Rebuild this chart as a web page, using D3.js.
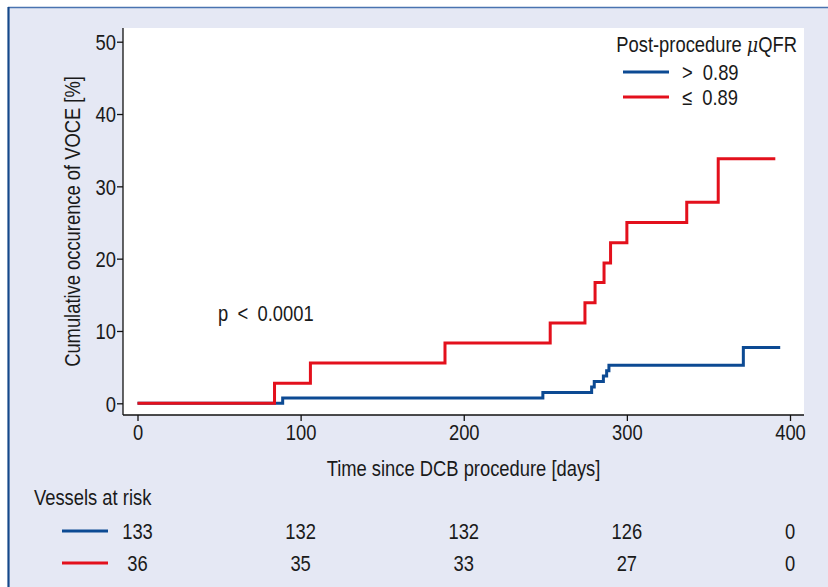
<!DOCTYPE html>
<html>
<head>
<meta charset="utf-8">
<script src="https://cdn.jsdelivr.net/npm/d3@7"></script>
<style>
  html, body { margin: 0; padding: 0; background: #ffffff; }
  svg { display: block; }
  text { font-family: "Liberation Sans", Arial, sans-serif; fill: #1a1a1a; }
</style>
</head>
<body>
<svg id="chart" width="828" height="587"></svg>
<script>
// ---- data ----
const xTicks = [0, 100, 200, 300, 400];
const yTicks = [0, 10, 20, 30, 40, 50];

const highTimes = [0, 89, 248.5, 278.4, 280, 285.6, 287.6, 289, 371.4, 394];
const highPct   = [0, 0.75, 1.50, 2.26, 3.01, 3.76, 4.51, 5.26, 7.7, 7.7];

const lowTimes = [0, 84, 106, 188.5, 253, 274.3, 280.5, 286, 290, 300, 336.7, 356, 391];
const lowPct   = [0, 2.78, 5.56, 8.33, 11.1, 13.9, 16.7, 19.4, 22.2, 25.0, 27.8, 33.8, 33.8];

const riskTimes = [0, 100, 200, 300, 400];
const highRisk = [133, 132, 132, 126, 0];
const lowRisk  = [36, 35, 33, 27, 0];

const groupLabels = ["> 0.89", "\u2264 0.89"];
const colors = ["#0c4a93", "#e3101c"];

// ---- layout ----
const svg = d3.select("#chart");
const W = 828, H = 587;
const plot = { left: 123, right: 804, top: 28, bottom: 415 };
const fs = 22;
const sx = 0.835; // narrow font emulation

function ntext(x0, y0, str, anchor, rot) {
  const t = svg.append("text")
    .attr("transform", `translate(${x0},${y0})${rot ? " rotate(" + rot + ")" : ""} scale(${sx},1)`)
    .attr("text-anchor", anchor || "start")
    .style("font-size", fs + "px");
  if (str !== null) t.text(str);
  return t;
}

// background frame
svg.append("rect").attr("x", 8).attr("y", 7).attr("width", W - 8).attr("height", H - 7).attr("fill", "#e5e8f4");
svg.append("line").attr("x1", 8).attr("x2", W).attr("y1", 7.5).attr("y2", 7.5).attr("stroke", "#4a73b0").attr("stroke-width", 1.5);
svg.append("line").attr("x1", 8.5).attr("x2", 8.5).attr("y1", 7).attr("y2", H).attr("stroke", "#15488a").attr("stroke-width", 2.2);

// plot region
svg.append("rect").attr("x", plot.left).attr("y", plot.top)
  .attr("width", plot.right - plot.left).attr("height", plot.bottom - plot.top).attr("fill", "#ffffff");

const x = d3.scaleLinear().domain([0, 400]).range([137.5, 790]);
const y = d3.scaleLinear().domain([0, 50]).range([403.3, 41.7]);

// axes
const yAxis = svg.append("g").attr("transform", `translate(${plot.left},0)`)
  .call(d3.axisLeft(y).tickValues(yTicks).tickSize(6).tickPadding(1).tickFormat(d3.format("d")));
yAxis.select(".domain").remove();
yAxis.selectAll(".tick text").each(function () {
  const t = d3.select(this);
  t.attr("x", +t.attr("x") / sx).attr("dy", "0.36em").attr("transform", `scale(${sx},1)`);
});

const xAxis = svg.append("g").attr("transform", `translate(0,${plot.bottom})`)
  .call(d3.axisBottom(x).tickValues(xTicks).tickSize(6).tickPadding(3).tickFormat(d3.format("d")));
xAxis.select(".domain").remove();
xAxis.selectAll(".tick text").attr("transform", `scale(${sx},1)`);

svg.append("line").attr("x1", plot.left).attr("x2", plot.left).attr("y1", plot.top).attr("y2", plot.bottom)
  .attr("stroke", "#111").attr("stroke-width", 1.3);
svg.append("line").attr("x1", plot.left).attr("x2", plot.right).attr("y1", plot.bottom).attr("y2", plot.bottom)
  .attr("stroke", "#111").attr("stroke-width", 1.3);

svg.selectAll(".tick line").attr("stroke", "#111").attr("stroke-width", 1.3);
svg.selectAll(".tick text").style("font-size", fs + "px").attr("fill", "#1a1a1a")
  .style("font-family", '"Liberation Sans", Arial, sans-serif');

// axis titles
ntext((plot.left + plot.right) / 2, 476, "Time since DCB procedure [days]", "middle");
ntext(80, (plot.top + plot.bottom) / 2, "Cumulative occurence of VOCE [%]", "middle", -90);

// step lines
const line = d3.line().curve(d3.curveStepAfter).x(d => x(d[0])).y(d => y(d[1]));
const series = [
  d3.zip(highTimes, highPct),
  d3.zip(lowTimes, lowPct)
];
series.forEach((s, i) => {
  svg.append("path").datum(s).attr("d", line).attr("fill", "none")
    .attr("stroke", colors[i]).attr("stroke-width", 3);
});

// p-value
ntext(218, 321, "p < 0.0001").style("word-spacing", "5px");

// legend
const legT = ntext(797, 52, null, "end");
legT.append("tspan").text("Post-procedure ");
legT.append("tspan").style("font-style", "italic").style("font-family", '"DejaVu Serif", serif').style("font-size", (fs - 1) + "px").text("\u03bc");
legT.append("tspan").text("QFR");
groupLabels.forEach((lab, i) => {
  const yy = 72 + i * 25;
  svg.append("line").attr("x1", 623).attr("x2", 669).attr("y1", yy).attr("y2", yy)
    .attr("stroke", colors[i]).attr("stroke-width", 3);
  ntext(682, yy + 8, lab).style("word-spacing", "6px");
});

// risk table
ntext(34, 505, "Vessels at risk");
[highRisk, lowRisk].forEach((row, i) => {
  const yy = 531 + i * 32;
  svg.append("line").attr("x1", 62).attr("x2", 108).attr("y1", yy).attr("y2", yy)
    .attr("stroke", colors[i]).attr("stroke-width", 3);
  riskTimes.forEach((t, j) => ntext(x(t), yy + 8, String(row[j]), "middle"));
});
</script>
</body>
</html>
